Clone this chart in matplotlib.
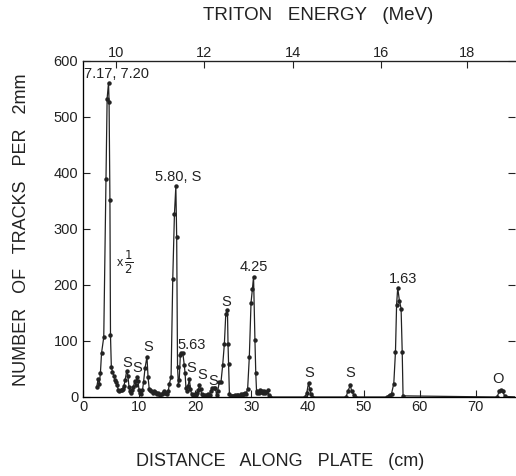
import matplotlib
matplotlib.use("Agg")
import matplotlib.pyplot as plt
import numpy as np

plt.rcParams['font.family'] = ['Liberation Sans', 'DejaVu Sans']

# distance along plate (cm) and number of tracks per 2 mm
distance = [2.45, 2.7, 2.9, 3.1, 3.3, 3.7, 4.1, 4.3, 4.55, 4.65, 4.8, 4.9,
            5.05, 5.25, 5.5, 5.7, 5.9, 6.1, 6.3, 6.5, 6.7, 6.9, 7.1, 7.3, 7.5,
            7.8, 8.0, 8.2, 8.4, 8.6, 8.8, 9.0, 9.2, 9.4, 9.6, 9.8, 10.0, 10.2,
            10.4, 10.6, 10.8, 11.05, 11.4, 11.6, 11.8, 12.0, 12.2, 12.4, 12.6,
            12.8, 13.0, 13.2, 13.4, 13.6, 13.8, 14.0, 14.2, 14.4, 14.6, 14.8,
            15.0, 15.2, 15.4, 15.7, 16.0, 16.3, 16.55, 16.7, 16.85, 17.0,
            17.15, 17.35, 17.55, 17.8, 18.05, 18.2, 18.35, 18.55, 18.75, 18.95,
            19.15, 19.35, 19.55, 19.75, 19.95, 20.15, 20.35, 20.55, 20.75,
            20.95, 21.15, 21.35, 21.55, 21.75, 21.95, 22.15, 22.35, 22.55,
            22.75, 23.0, 23.3, 23.6, 23.8, 24.0, 24.3, 24.6, 24.9, 25.2, 25.45,
            25.75, 25.85, 25.95, 26.1, 26.3, 26.5, 26.7, 26.9, 27.1, 27.3,
            27.5, 27.7, 27.9, 28.1, 28.3, 28.5, 28.7, 28.9, 29.1, 29.35, 29.65,
            29.95, 30.2, 30.4, 30.65, 30.8, 30.95, 31.1, 31.3, 31.5, 31.7,
            31.9, 32.1, 32.3, 32.5, 32.7, 32.9, 33.1, 33.3, 39.6, 39.9, 40.2,
            40.4, 40.6, 40.9, 46.9, 47.2, 47.65, 47.9, 48.25, 48.5, 54.2, 54.5,
            54.8, 55.0, 55.4, 55.7, 55.9, 56.1, 56.4, 56.7, 56.9, 57.05, 73.8,
            74.2, 74.5, 74.8, 75.2, 77.5]
tracks = [18, 32, 24, 42, 78, 107, 390, 533, 561, 526, 351, 110,
          54, 45, 38, 30, 27, 21, 12, 10, 12, 13, 15, 20, 30,
          47, 38, 18, 10, 8, 12, 18, 28, 22, 35, 28, 12, 8,
          5, 12, 27, 51, 72, 35, 15, 12, 10, 8, 10,
          9, 7, 6, 8, 5, 3, 5, 8, 10, 8, 7,
          6, 10, 24, 36, 211, 327, 376, 285, 54, 22,
          30, 75, 78, 78, 57, 42, 16, 10, 20, 33,
          15, 5, 4, 2, 5, 3, 8, 12, 21,
          14, 5, 3, 2, 3, 2, 4, 6, 4,
          10, 16, 16, 16, 4, 10, 27, 27, 57, 95, 148,
          155, 95, 59, 5, 2, 1, 2, 1, 3, 2,
          4, 3, 2, 5, 4, 6, 5, 8, 6, 15, 72,
          168, 193, 215, 101, 42, 7, 10, 8, 12, 9,
          11, 8, 10, 7, 9, 12, 4, 0, 0, 8, 25,
          15, 6, 0, 0, 10, 21, 10, 4, 0, 0, 2,
          3, 6, 24, 81, 165, 195, 172, 158, 81, 2, 0,
          10, 13, 10, 1, 0]

# peak labels: text, distance, count
peak_labels = ["7.17, 7.20", "5.80, S", "S", "S", "S", "5.63", "S", "S", "S",
               "S", "4.25", "S", "S", "1.63", "O"]
label_x = [5.9, 16.9, 7.8, 9.6, 11.6, 19.3, 19.25, 21.2, 23.2, 25.6, 30.4,
           40.3, 47.6, 57.0, 74.0]
label_y = [576, 392, 60, 52, 89, 93, 52, 39, 28, 169, 232, 42, 42, 210, 32]

# axis ticks
x_ticks = [0, 10, 20, 30, 40, 50, 60, 70]
y_ticks = [0, 100, 200, 300, 400, 500, 600]
energy_labels = ["10", "12", "14", "16", "18"]
energy_positions = [5.9, 21.6, 37.4, 53.1, 68.4]

W, H = 516, 476
fig = plt.figure(figsize=(W / 100, H / 100), dpi=100)
ax = fig.add_axes([83 / W, (H - 397) / H, (515 - 83) / W, (397 - 61) / H])

ink = '#222222'
ax.plot(distance, tracks, '-', color=ink, lw=0.9, marker='o', ms=2.2,
        mfc=ink, mec=ink, zorder=3)

for t, x, y in zip(peak_labels, label_x, label_y):
    ax.text(x, y, t, ha='center', va='center', fontsize=10.5, color=ink)
ax.text(6.6, 240, "x", ha='center', va='center', fontsize=9, color=ink)
ax.text(8.1, 240, r"$\frac{1}{2}$", ha='center', va='center', fontsize=12,
        color=ink)

ax.set_xlim(0, (515 - 83) / 5.61)
ax.set_ylim(0, 600)
ax.set_xticks(x_ticks)
ax.set_yticks(y_ticks)
ax.tick_params(direction='in', length=5, width=0.8, labelsize=10.5,
               colors=ink, right=True, labelright=False)
ax.tick_params(axis='x', pad=2)
ax.spines['right'].set_visible(False)
for s in ['left', 'bottom', 'top']:
    ax.spines[s].set_color(ink)
    ax.spines[s].set_linewidth(0.9)

ax2 = ax.twiny()
ax2.set_xlim(ax.get_xlim())
ax2.set_xticks(energy_positions)
ax2.set_xticklabels(energy_labels)
ax2.tick_params(direction='in', length=5, width=0.8, labelsize=10.5,
                colors=ink, pad=1)
ax2.spines['right'].set_visible(False)
ax2.spines['top'].set_color(ink)

fig.text(22 / W, 1 - 230 / H, "NUMBER   OF   TRACKS   PER   2mm", rotation=90,
         ha='center', va='center', fontsize=13, color=ink)
fig.text(280 / W, 1 - 462 / H, "DISTANCE   ALONG   PLATE   (cm)",
         ha='center', va='center', fontsize=13, color=ink)
fig.text(318 / W, 1 - 16 / H, "TRITON   ENERGY   (MeV)",
         ha='center', va='center', fontsize=13.5, color=ink)

fig.savefig("out.png", dpi=100, facecolor='white')
